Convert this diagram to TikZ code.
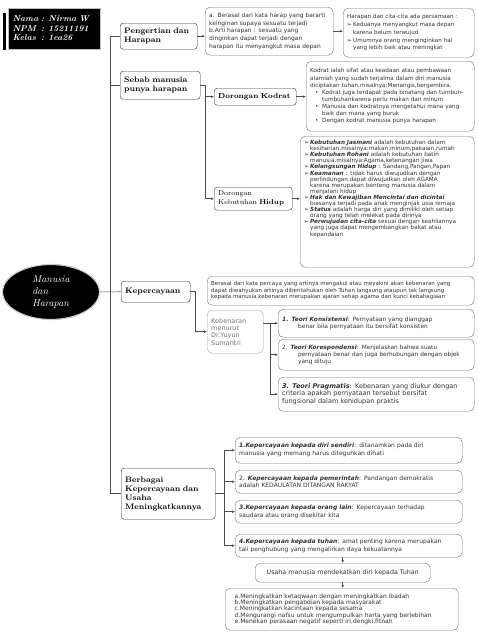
\documentclass[tikz,border=0pt]{standalone}
\usepackage{fontspec}
\usepackage{tikz}
\usetikzlibrary{arrows.meta,shapes.geometric}
\newfontfamily\notefont{DejaVu Sans}
\newcommand\arrbul{\makebox[6pt][l]{➢}}
\newcommand\dotbul{\makebox[7pt][l]{•}}
\newcommand\kw[1]{\textbf{\textit{#1}}}

\tikzset{
  boxsize/.code 2 args={\pgfmathsetmacro\bw{#1-8}%
    \tikzset{minimum width=#1pt, minimum height=#2pt, text width=\bw pt}},
  notesize/.style 2 args={font=\notefont\fontsize{#1}{#2}\selectfont},
  mainbox/.style={draw=black!80, rounded corners=3pt, fill=white, inner xsep=4pt,
    inner ysep=2pt, align=left, anchor=north west, font=\fontsize{8}{9}\selectfont\bfseries},
  notebox/.style={draw=black!55, rounded corners=5pt, fill=white, inner xsep=4pt,
    inner ysep=2pt, align=left, anchor=north west, text=black!80},
  infobox/.style={fill=black, draw=black!25, line width=1.2pt, anchor=north west,
    inner xsep=4pt, inner ysep=2pt, text=white, align=left,
    font=\fontsize{8.5}{9.5}\selectfont\itshape\bfseries},
  link/.style={draw=black!70, line width=0.5pt},
  arr/.style={link, -{Latex[length=3pt,width=2.6pt]}}
}

\begin{document}
\begin{tikzpicture}[x=1pt,y=-1pt]
  \useasboundingbox (0,0) rectangle (477,640);

  % name card and centre
  \fill[black] (3,13) rectangle (5.5,50);
  \node[infobox, boxsize={92}{41}] (info) at (8,8)
    {\begin{tabular}{@{}l@{\ }l@{}}Nama & : Nirma W\\NPM & : 15211191\\Kelas & : 1ea26\end{tabular}};
  \node[ellipse, fill=black, draw=black!20, line width=1.2pt, minimum width=97pt,
    minimum height=55pt, inner sep=0pt, text=white, align=left,
    font=\fontsize{10}{12}\selectfont\itshape] (root) at (51,292) {Manusia\\dan\\Harapan};

  % main topics
  \node[mainbox, boxsize={77}{26}] (peng) at (120,23) {Pengertian dan\\Harapan};
  \node[mainbox, boxsize={80}{28}] (sebab) at (120,71) {Sebab manusia\\punya harapan};
  \node[mainbox, boxsize={69}{21}] (perc) at (121,281) {Kepercayaan};
  \node[mainbox, boxsize={94}{51}] (berb) at (121,468)
    {Berbagai\\Kepercayaan dan\\Usaha\\Meningkatkannya};
  \node[mainbox, boxsize={82}{17}, font=\fontsize{7.3}{8.5}\selectfont\bfseries] (dkod) at (214,88)
    {Dorongan Kodrat};
  \node[mainbox, boxsize={78}{23}, font=\fontsize{7}{9}\selectfont] (dkeb) at (214,187)
    {Dorongan\\Kebutuhan \textbf{Hidup}};

  % pengertian
  \node[notebox, boxsize={128}{48}, notesize={5.9}{7.8}] (arti) at (205,7)
    {a. Berasal dari kata harap yang bararti\\keinginan supaya sesuatu terjadi\\
     b.Arti harapan : sesuatu yang\\dinginkan dapat terjadi dengan\\
     harapan itu menyangkut masa depan};
  \node[notebox, boxsize={131}{49}, notesize={5.6}{7.8}] (cita) at (343,8)
    {Harapan dan cita-cita ada persamaan :\\\arrbul Keduanya menyangkut masa depan\\
     \hspace*{6pt}karena belum terwujud\\\arrbul Umumnya orang menginginkan hal\\
     \hspace*{6pt}yang lebih baik atau meningkat};

  % sebab
  \node[notebox, boxsize={168}{70}, notesize={5.7}{7.1}] (kodr) at (306,61)
    {Kodrat ialah sifat atau keadaan atau pembawaan\\
     alamiah yang sudah terjalma dalam diri manusia\\
     diciptakan tuhan.misalnya:Menangis,bergembira.\\
     \hspace*{5pt}\dotbul Kodrat juga terdapat pada binatang dan tumbuh-\\
     \hspace*{12pt}tumbuhankarena perlu makan dan minum\\
     \hspace*{5pt}\dotbul Manusia dan kodratnya mengetahui mana yang\\
     \hspace*{12pt}baik dan mana yang buruk\\
     \hspace*{5pt}\dotbul Dengan kodrat manusia punya harapan};
  \node[notebox, boxsize={174}{131}, notesize={5.7}{6.1}] (kebt) at (300,136)
    {\arrbul\kw{Kebutuhan Jasmani} adalah kebutuhan dalam\\
     \hspace*{6pt}kesiharian.misalnya:makan,minum,pakaian,rumah\\
     \arrbul\kw{Kebutuhan Rohani} adalah kebutuhan batin\\
     \hspace*{6pt}manusia.misalnya:Agama,ketenangan jiwa\\
     \arrbul\kw{Kelangsungan Hidup} : Sandang,Pangan,Papan\\
     \arrbul\kw{Keamanan} : tidak harus diwujudkan dengan\\
     \hspace*{6pt}perlindungan.dapat diwujudkan oleh AGAMA\\
     \hspace*{6pt}karena merupakan benteng manusia dalam\\
     \hspace*{6pt}menjalani hidup\\
     \arrbul\kw{Hak dan Kewajiban Mencintai dan dicintai}\\
     \hspace*{6pt}biasanya terjadi pada anak menginjak usia remaja\\
     \arrbul\kw{Status} adalah harga diri yang dimiliki oleh setiap\\
     \hspace*{6pt}orang yang telah melekat pada dirinya\\
     \arrbul\kw{Perwujudan cita-cita} sesuai dengan keahliannya\\
     \hspace*{6pt}yang juga dapat mengembangkan bakat atau\\
     \hspace*{6pt}kepandaian\par\vspace*{26pt}};

  % kepercayaan
  \node[notebox, boxsize={267}{29}, notesize={5.5}{6.3}] (asal) at (207,276)
    {Berasal dari kata percaya yang artinya mengakui atau meyakini akan kebenaran yang\\
     dapat diwahyukan artinya diberitahukan oleh Tuhan langsung ataupun tak langsung\\
     kepada manusia.kebenaran merupakan ajaran setiap agama dan kunci kebahagiaan};
  \node[notebox, boxsize={56}{43}, notesize={6.5}{7.3}, draw=black!35, text=black!55] (kebn)
    at (207,310) {Kebenaran\\menurut\\Dr.Yuyun\\Sumantri};
  \node[notebox, boxsize={196}{28}, notesize={5.9}{6.8}] (t1) at (278,309)
    {\kw{1. Teori Konsistensi}: Pernyataan yang dianggap\\
     \hspace*{16pt}benar bila pernyataan itu bersifat konsisten};
  \node[notebox, boxsize={196}{31}, notesize={5.8}{6.8}] (t2) at (278,339)
    {2. \kw{Teori Korespondensi}: Menjelaskan bahwa suatu\\
     \hspace*{16pt}pernyataan benar dan juga berhubungan dengan objek\\
     \hspace*{16pt}yang dituju};
  \node[notebox, boxsize={196}{34}, notesize={6.5}{7.5}] (t3) at (278,377)
    {\kw{3. Teori Pragmatis}: Kebenaran yang diukur dengan\\
     criteria apakah pernyataan tersebut bersifat\\
     fungsional dalam kehidupan praktis};

  % berbagai kepercayaan
  \node[notebox, boxsize={227}{26}, notesize={6}{8}] (k1) at (235,437)
    {\kw{1.Kepercayaan kepada diri sendiri}: ditanamkan pada diri\\
     manusia yang memang harus diteguhkan dihati};
  \node[notebox, boxsize={227}{23}, notesize={6}{7.5}] (k2) at (235,470)
    {2. \kw{Kepercayaan kepada pemerintah}: Pandangan demokratis\\
     adalah KEDAULATAN DITANGAN RAKYAT};
  \node[notebox, boxsize={227}{23}, notesize={6}{7.5}] (k3) at (235,500)
    {\kw{3.Kepercayaan kepada orang lain}: Kepercayaan terhadap\\
     saudara atau orang disekitar kita};
  \node[notebox, boxsize={227}{23}, notesize={6}{7.5}] (k4) at (235,534)
    {\kw{4.Kepercayaan kepada tuhan}: amat penting karena merupakan\\
     tali penghubung yang mengalirkan daya kekuatannya};
  \node[notebox, boxsize={175}{19}, notesize={6.3}{7}, align=center] (usaha) at (255,563)
    {Usaha manusia mendekatkan diri kepada Tuhan};
  \node[notebox, boxsize={233}{42}, notesize={6}{6.3}, text width=214pt] (final) at (225,588)
    {a.Meningkatkan ketaqwaan dengan meningkatkan ibadah\\
     b.Meningkatkan pengabdian kepada masyarakat\\
     c.Meningkatkan kacintaan kepada sesama\\
     d.Mengurangi nafsu untuk mengumpulkan harta yang berlebihan\\
     e.Menekan perasaan negatif seperti iri,dengki,fitnah};

  % connectors
  \draw[link] (peng.west) -- ++(-10,0) |- (berb.west);
  \draw[link] (sebab.west) -- ++(-10,0);
  \draw[link] (root.east) -- (perc.west);
  \draw[arr] (peng.east) -- (arti.west |- peng.east);
  \draw[arr] (arti.east) -- (cita.west |- arti.east);
  \draw[arr] (sebab.east) -- ++(5,0) |- (dkod.west);
  \draw[arr] (sebab.east) -- ++(5,0) |- (dkeb.west);
  \draw[arr] (dkod.east) -- (kodr.west |- dkod.east);
  \draw[arr] (dkeb.east) -- (kebt.west |- dkeb.east);
  \draw[arr] (perc.east) -- ++(5,0) |- (kebn.west);
  \foreach \t in {t1,t2,t3}
    \draw[arr] (kebn.east |- t1.west) -- ++(7,0) |- (\t.west);
  \foreach \k in {k1,k2,k3,k4}
    \draw[arr] (berb.east) -- ++(9,0) |- (\k.west);
  \draw[arr] (usaha.north |- k4.south) -- (usaha.north);
  \draw[arr] (usaha.south) -- (usaha.south |- final.north);
\end{tikzpicture}
\end{document}
